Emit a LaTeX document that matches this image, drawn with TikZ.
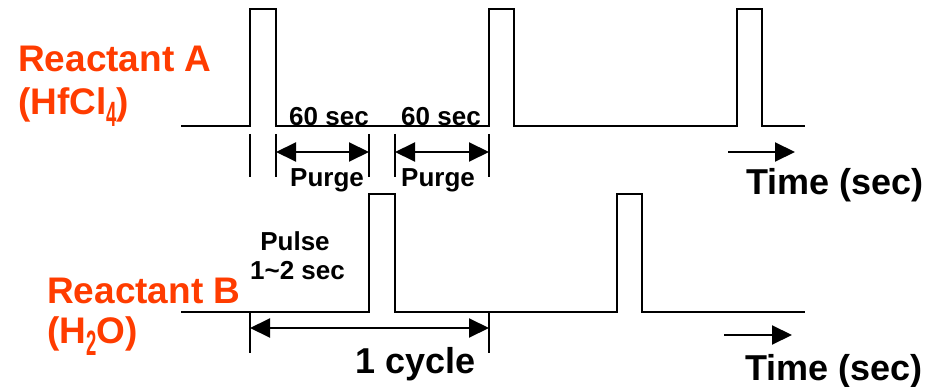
\documentclass[tikz,border=0pt]{standalone}
\usepackage{fontspec}
\setmainfont{Liberation Sans}
\usetikzlibrary{arrows.meta}
\definecolor{react}{RGB}{255,60,0}
\newcommand{\chemsub}[1]{\raisebox{-12pt}{\scalebox{0.5}[0.95]{#1}}}
\begin{document}
\begin{tikzpicture}[x=1pt,y=-1pt,
  wave/.style={line width=2pt, line join=miter},
  tickline/.style={line width=1.8pt},
  dimarrow/.style={line width=2pt,{Triangle[length=20pt,width=19pt]}-{Triangle[length=20pt,width=19pt]}},
  timearrow/.style={line width=2pt,-{Triangle[length=20pt,width=19pt]}},
  big/.style={font=\fontsize{36}{40}\selectfont\bfseries, inner sep=0pt},
  small/.style={font=\fontsize{26}{30}\selectfont\bfseries, inner sep=0pt},
  reactlabel/.style={font=\fontsize{37}{40}\selectfont\bfseries, inner sep=0pt, text=react}]
\useasboundingbox (0,0) rectangle (925,387);

% Reactant A waveform
\draw[wave] (181,126.5) -- (250,126.5) -- (250,9.5) -- (276,9.5) -- (276,126.5)
  -- (489,126.5) -- (489,9.5) -- (514,9.5) -- (514,126.5)
  -- (737,126.5) -- (737,9.5) -- (762,9.5) -- (762,126.5) -- (805,126.5);

% Reactant B waveform
\draw[wave] (181,311.5) -- (369,311.5) -- (369,194) -- (395,194) -- (395,311.5)
  -- (617,311.5) -- (617,194) -- (642,194) -- (642,311.5) -- (805,311.5);

% tick lines A
\foreach \n/\x in {ta1/250,ta2/276,ta3/369,ta4/395,ta5/489}{
  \coordinate (\n t) at (\x,134);
  \coordinate (\n b) at (\x,177);
  \coordinate (\n m) at (\x,152);
  \draw[tickline] (\n t) -- (\n b);
}
\draw[dimarrow] (ta2m) -- (ta3m);
\draw[dimarrow] (ta4m) -- (ta5m);

% tick lines B
\foreach \n/\x in {tb1/250,tb2/489}{
  \coordinate (\n t) at (\x,312);
  \coordinate (\n b) at (\x,353);
  \coordinate (\n m) at (\x,328);
  \draw[tickline] (\n t) -- (\n b);
}
\draw[dimarrow] (tb1m) -- (tb2m);

% time arrows
\coordinate (tas) at (728,152);
\coordinate (tae) at (795,152);
\draw[timearrow] (tas) -- (tae);
\coordinate (tbs) at (724,335);
\coordinate (tbe) at (792,335);
\draw[timearrow] (tbs) -- (tbe);

% labels
\node[reactlabel, anchor=base west] (ra) at (18,72) {Reactant A};
\node[reactlabel, anchor=base west] (raf) at (18,115) {(HfCl\chemsub{4})};
\node[reactlabel, anchor=base west] (rb) at (47,303) {Reactant B};
\node[reactlabel, anchor=base west] (rbf) at (47,343) {(H\chemsub{2}O)};

\node[small, anchor=base] (s1) at (329,126) {60 sec};
\node[small, anchor=base] (s2) at (441,126) {60 sec};
\node[small, anchor=base] (p1) at (327,187) {Purge};
\node[small, anchor=base] (p2) at (438,187) {Purge};
\node[small, anchor=base] (pl) at (295,250) {Pulse};
\node[small, anchor=base] (pt) at (297.5,279) {1\textasciitilde2 sec};

\node[big, anchor=base] (cyc) at (416,373) {1 cycle};
\node[big, anchor=base west] (tia) at (746,195) {Time (sec)};
\node[big, anchor=base west] (tib) at (745,380) {Time (sec)};
\end{tikzpicture}
\end{document}
